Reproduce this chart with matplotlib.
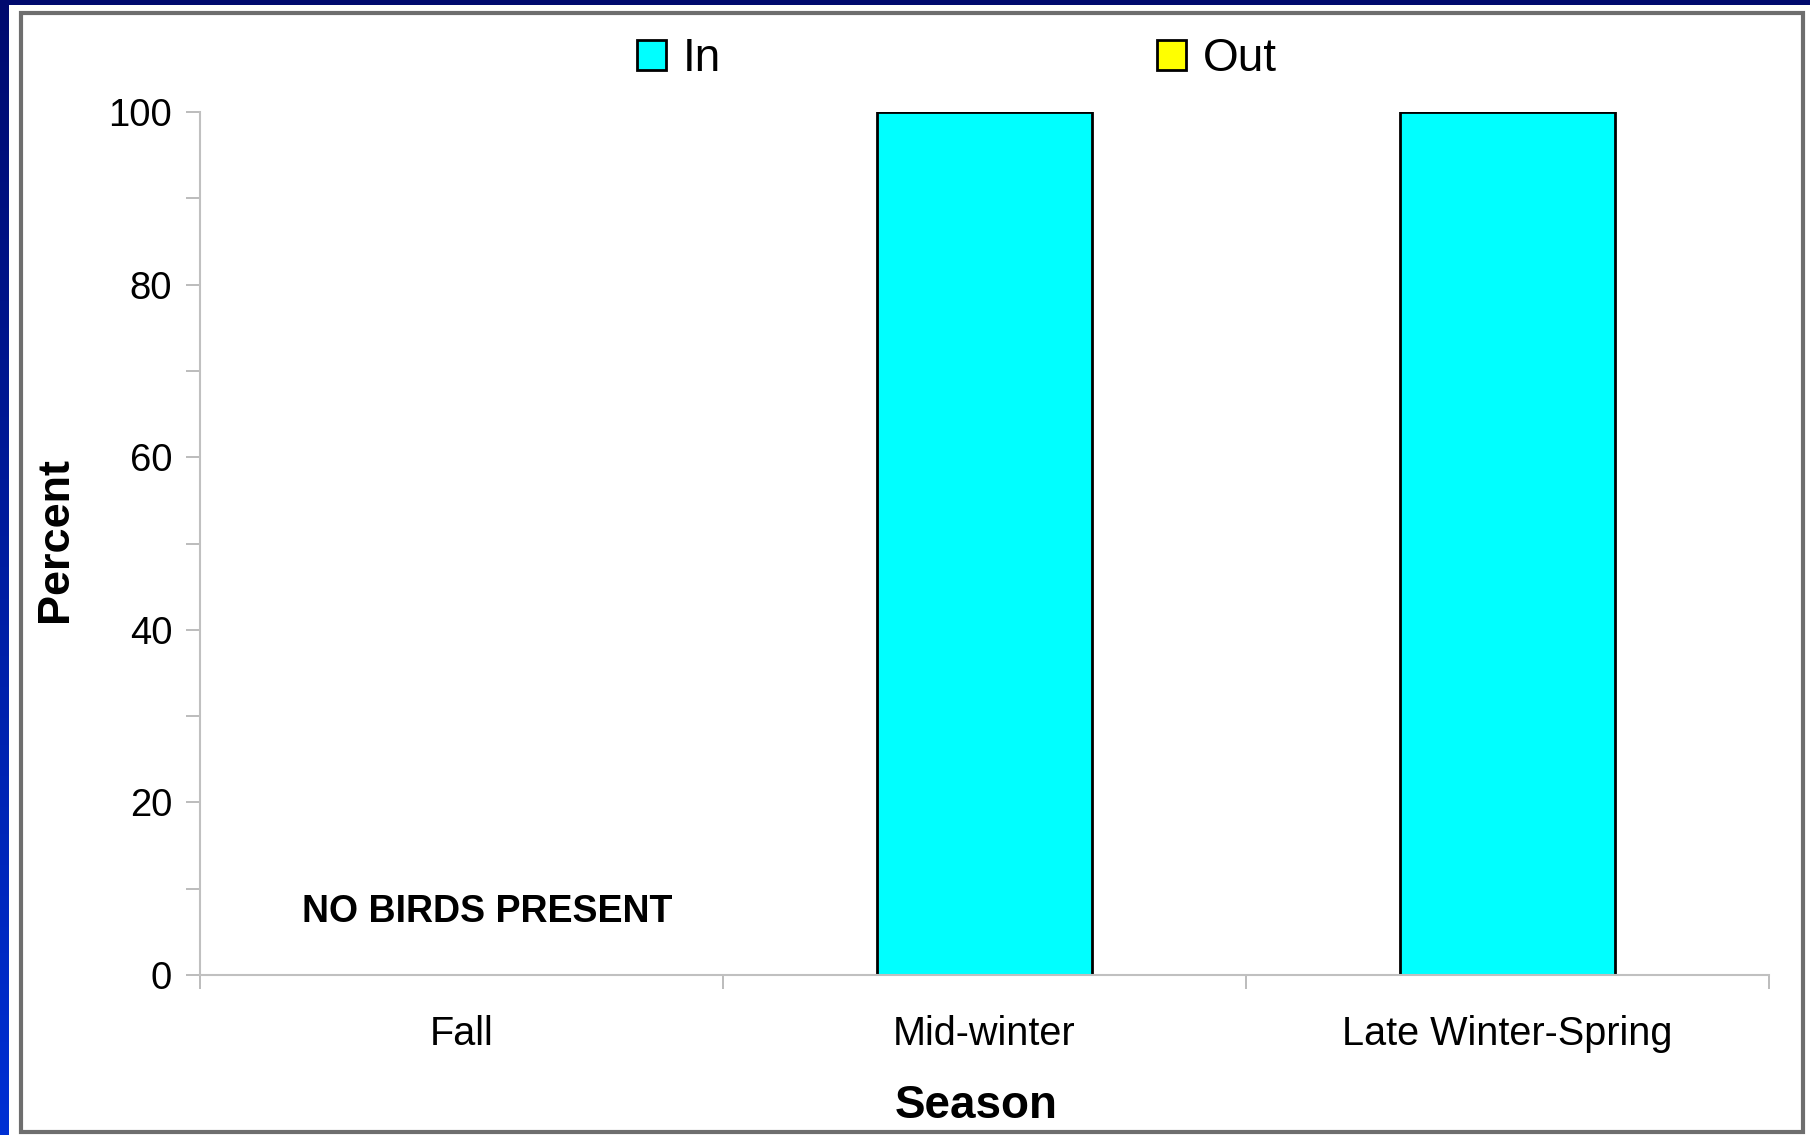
import numpy as np
import matplotlib
matplotlib.use("Agg")
import matplotlib.pyplot as plt
from matplotlib.patches import Rectangle

plt.rcParams["font.family"] = ["Liberation Sans", "DejaVu Sans"]

# ── Data ──────────────────────────────────────────────────────────────────────
seasons = ["Fall", "Mid-winter", "Late Winter-Spring"]
pct_in = [0, 100, 100]
pct_out = [0, 0, 0]
series = ["In", "Out"]
series_colors = ["#00ffff", "#ffff00"]
note = "NO BIRDS PRESENT"

W, H = 1810, 1135
fig = plt.figure(figsize=(W / 100, H / 100), dpi=100)

# blue slide background (navy top, brighter blue towards the bottom-left)
bg = fig.add_axes([0, 0, 1, 1], zorder=-10)
grad = np.linspace(0, 1, 256).reshape(-1, 1)
cmap = matplotlib.colors.LinearSegmentedColormap.from_list("slide", ["#000a6e", "#0030d4"])
bg.imshow(grad, aspect="auto", cmap=cmap, extent=[0, 1, 0, 1], origin="upper")
bg.axis("off")

# white panel + grey frame
fig.patches.append(Rectangle((9 / W, 0), 1, 1 - 5 / H, transform=fig.transFigure,
                             facecolor="white", edgecolor="none", zorder=-5))
fig.patches.append(Rectangle((21 / W, 3 / H), (1803 - 21) / W, (1122 - 3) / H,
                             transform=fig.transFigure, facecolor="white",
                             edgecolor="#6e6e6e", linewidth=3, zorder=-4))

ax = fig.add_axes([200 / W, 1 - 975 / H, (1769 - 200) / W, (975 - 112) / H])
ax.set_facecolor("white")

x = np.arange(len(seasons))
b_in = ax.bar(x, pct_in, width=0.41, color=series_colors[0], edgecolor="black", linewidth=2)
b_out = ax.bar(x, pct_out, width=0.41, bottom=pct_in, color=series_colors[1],
               edgecolor="black", linewidth=2)
# hide zero-height outlines
for rect in list(b_in) + list(b_out):
    if rect.get_height() == 0:
        rect.set_visible(False)

ax.set_xlim(-0.5, len(seasons) - 0.5)
ax.set_ylim(0, 100)
ax.set_yticks(np.arange(0, 101, 20))
ax.set_yticks(np.arange(0, 101, 10), minor=True)
ax.set_xticks(x)
ax.set_xticks(np.arange(-0.5, len(seasons)), minor=True)
ax.set_xticklabels(seasons, fontsize=28.5)
ax.tick_params(axis="y", which="both", length=10, width=1.2, color="#b0b0b0", labelsize=27.5, pad=10)
ax.tick_params(axis="x", which="major", length=0, pad=28.5)
ax.tick_params(axis="x", which="minor", length=10, width=1.2, color="#b0b0b0")

for side in ["top", "right"]:
    ax.spines[side].set_visible(False)
for side in ["left", "bottom"]:
    ax.spines[side].set_color("#c0c0c0")
    ax.spines[side].set_linewidth(1.5)

ax.set_xlabel("Season", fontsize=33, fontweight="bold", va="center")
ax.xaxis.set_label_coords(0.495, -0.152)
ax.set_ylabel("Percent", fontsize=32.5, fontweight="bold", va="center")
ax.yaxis.set_label_coords(-0.092, 0.505)

ax.text(0.05, 7.3, note, fontsize=27, fontweight="bold", ha="center", va="center")

handles = [Rectangle((0, 0), 1, 1, facecolor=c, edgecolor="black", linewidth=2)
           for c in series_colors]
fig.legend(handles=handles, labels=series, ncol=2, frameon=False,
           loc="center", bbox_to_anchor=(957 / W, 1 - 59 / H), fontsize=33,
           handlelength=0.63, handleheight=0.63, handletextpad=0.37, columnspacing=9.5)

fig.savefig("out.png", dpi=100)
